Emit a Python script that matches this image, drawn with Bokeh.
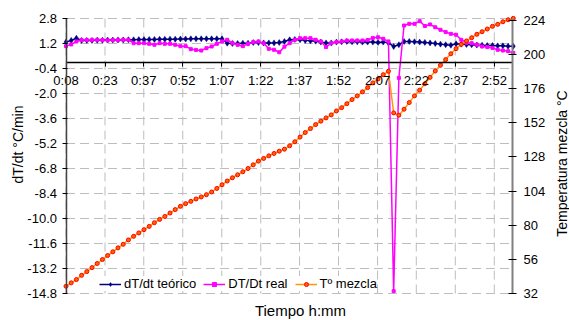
from bokeh.plotting import figure
from bokeh.models import (Range1d, LinearAxis, FixedTicker, NumeralTickFormatter,
                          Legend, LegendItem, Label)
from bokeh.embed import file_html
from bokeh.resources import INLINE

# ---------------- data ----------------
time_min = [8, 10, 12, 14, 16, 18, 20, 22, 24, 26, 28, 30, 32, 34, 36, 38, 40, 42, 44, 46,
            48, 50, 52, 54, 56, 58, 60, 62, 64, 66, 68, 70, 72, 74, 76, 78, 80, 82, 84, 86,
            88, 90, 92, 94, 96, 98, 100, 102, 104, 106, 108, 110, 112, 114, 116, 118, 120,
            122, 124, 126, 128, 130, 132, 134, 136, 138, 140, 142, 144, 146, 148, 150, 152,
            154, 156, 158, 160, 162, 164, 166, 168, 170, 172, 174, 176, 178, 180]

rate_theory = [1.29, 1.40, 1.54, 1.40, 1.40, 1.40, 1.41, 1.41, 1.42, 1.42,
               1.43, 1.43, 1.44, 1.44, 1.45, 1.45, 1.46, 1.46, 1.47, 1.47,
               1.48, 1.48, 1.49, 1.49, 1.50, 1.50, 1.50, 1.50, 1.50, 1.50, 1.50,
               1.22, 1.20, 1.20, 1.22, 1.22, 1.26, 1.26, 1.24, 1.24, 1.24, 1.26,
               1.33, 1.44, 1.46, 1.44, 1.40, 1.37, 1.35, 1.29, 1.24, 1.24,
               1.29, 1.31, 1.33, 1.31, 1.31, 1.29, 1.29, 1.29, 1.27, 1.29, 1.24,
               1.01, 1.12, 1.33, 1.33, 1.31, 1.29, 1.27, 1.24, 1.20, 1.16, 1.12, 1.09,
               1.18, 1.16, 1.14, 1.12, 1.10, 1.09, 1.07, 1.07, 1.05, 1.05, 1.03, 1.03]

rate_real = [1.03, 1.14, 1.33, 1.42, 1.42, 1.42, 1.44, 1.42, 1.40, 1.42,
             1.42, 1.44, 1.44, 1.22, 1.22, 1.22, 1.18, 1.12, 1.22, 1.18,
             1.18, 1.12, 1.03, 1.03, 0.84, 0.79, 0.75, 0.90, 1.01, 1.18,
             1.33, 1.44, 1.22, 1.12, 1.03, 1.18, 1.29, 1.33, 1.22, 0.86,
             0.80, 0.64, 1.00, 1.22, 1.44, 1.54, 1.54, 1.54, 1.44, 1.33,
             0.97, 1.22, 1.29, 1.33, 1.39, 1.39, 1.39, 1.39, 1.42, 1.56,
             1.60, 1.50, 1.33, -14.65, -1.00, 2.35, 2.46, 2.46, 2.63, 2.32,
             2.42, 2.24, 2.08, 1.93, 1.82, 1.76, 1.44, 1.25, 1.22, 1.12,
             1.01, 0.97, 0.92, 0.80, 0.75, 0.71, 0.60]

temp_mix = [37.1, 39.5, 41.8, 44.8, 47.4, 50.2, 53.1, 55.9, 58.7, 61.3,
            64.1, 66.6, 69.7, 72.2, 74.6, 76.9, 79.2, 81.8, 84.1, 86.2,
            88.6, 91.0, 93.3, 95.2, 96.8, 98.5, 99.9, 101.5, 103.4, 105.9,
            108.5, 111.1, 113.4, 115.5, 117.6, 119.9, 122.5, 125.1, 127.0, 128.8,
            130.5, 132.1, 133.5, 135.9, 138.7, 142.0, 145.2, 148.0, 150.8, 153.2,
            155.5, 157.6, 160.4, 162.7, 165.5, 168.4, 171.0, 173.8, 176.8, 180.1,
            182.9, 185.9, 188.3, 159.0, 157.4, 161.6, 166.3, 171.0, 175.0, 179.5,
            184.0, 188.5, 192.5, 196.5, 200.6, 204.2, 207.2, 209.6, 211.9, 214.3,
            216.1, 218.0, 219.9, 221.3, 223.1, 224.5, 225.5]

x_tick_pos = [8.0, 23.0, 37.9, 52.9, 67.9, 82.9, 97.8, 112.8, 127.8, 142.7, 157.7, 172.7]
x_tick_labels = ["0:08", "0:23", "0:37", "0:52", "1:07", "1:22", "1:37", "1:52",
                 "2:07", "2:22", "2:37", "2:52"]
left_ticks = [-14.8, -13.2, -11.6, -10.0, -8.4, -6.8, -5.2, -3.6, -2.0, -0.4, 1.2, 2.8]
right_ticks = [32, 56, 80, 104, 128, 152, 176, 200, 224]

series_names = ["dT/dt teórico", "DT/Dt real", "Tº mezcla"]
x_title = "Tiempo h:mm"
left_title = "dT/dt °C/min"
right_title = "Temperatura mezcla °C"

# ---------------- layout constants ----------------
W, H = 569, 320
X_MIN, X_MAX = 8, 179.7            # plot-area extent in minutes
Y_MIN, Y_MAX = -14.8, 2.8          # left axis extent
T_MIN, T_MAX = 32, 225.4           # right axis extent
AREA_L, AREA_R, AREA_T, AREA_B = 65.5, 512, 18, 293   # plot area in canvas px

# the Bokeh frame covers the whole canvas; map the plot area onto it
kx = (X_MAX - X_MIN) / (AREA_R - AREA_L)
ky = (Y_MAX - Y_MIN) / (AREA_B - AREA_T)
kt = (T_MAX - T_MIN) / (AREA_B - AREA_T)
x_rng = Range1d(X_MIN - AREA_L * kx, X_MAX + (W - AREA_R) * kx)
y_rng = Range1d(Y_MIN - (H - AREA_B) * ky, Y_MAX + AREA_T * ky)
t_rng = Range1d(T_MIN - (H - AREA_B) * kt, T_MAX + AREA_T * kt)

FONT = "Liberation Sans"

p = figure(width=W, height=H, output_backend="svg", toolbar_location=None,
           x_range=x_rng, y_range=y_rng, min_border=0)
p.title.visible = False
p.outline_line_color = None
p.background_fill_color = "white"
p.border_fill_color = "white"
p.xgrid.visible = False
p.ygrid.visible = False
p.extra_y_ranges = {"temp": t_rng}

# dashed grid lines inside the plot area
GRID = dict(line_color="#BDBDBD", line_dash="9 5", line_width=1)
p.segment(x0=[X_MIN] * len(left_ticks), x1=[X_MAX] * len(left_ticks),
          y0=left_ticks, y1=left_ticks, **GRID)
p.segment(x0=x_tick_pos, x1=x_tick_pos, y0=[Y_MIN] * len(x_tick_pos),
          y1=[Y_MAX] * len(x_tick_pos), **GRID)

# x axis drawn at y = 0
xa = p.xaxis[0]
xa.fixed_location = 0
xa.bounds = (X_MIN, X_MAX)
xa.ticker = FixedTicker(ticks=x_tick_pos)
xa.major_label_overrides = {t: l for t, l in zip(x_tick_pos, x_tick_labels)}
xa.axis_line_color = "black"
xa.axis_line_width = 1.5
xa.major_tick_line_color = "black"
xa.major_tick_out = 4
xa.major_tick_in = 0
xa.minor_tick_line_color = None
xa.major_label_standoff = 7

# left axis at the start of the time range
ya = p.yaxis[0]
ya.fixed_location = X_MIN
ya.bounds = (Y_MIN, Y_MAX)
ya.ticker = FixedTicker(ticks=left_ticks)
ya.formatter = NumeralTickFormatter(format="0.0")
ya.axis_line_color = "#444444"
ya.axis_line_width = 1.5
ya.major_tick_line_color = "black"
ya.major_tick_out = 4
ya.major_tick_in = 1
ya.minor_tick_line_color = None
ya.major_label_standoff = 5

# right axis (temperature)
ra = LinearAxis(y_range_name="temp", fixed_location=X_MAX, bounds=(T_MIN, T_MAX),
                ticker=FixedTicker(ticks=right_ticks))
ra.axis_line_color = "#808080"
ra.axis_line_width = 2
ra.major_tick_line_color = "black"
ra.major_tick_out = 4
ra.major_tick_in = 4
ra.minor_tick_line_color = None
ra.major_label_standoff = 7
p.add_layout(ra, "right")

for ax in (xa, ya, ra):
    ax.major_label_text_font = FONT
    ax.major_label_text_font_size = "13px"
    ax.major_label_text_color = "black"

# axis titles
TXT = dict(x_units="screen", y_units="screen", text_align="center",
           text_baseline="middle", text_font=FONT, text_color="black")
p.add_layout(Label(x=17, y=H - 144, angle=90, angle_units="deg", text=left_title,
                   text_font_size="14px", **TXT))
p.add_layout(Label(x=561, y=H - 163, angle=90, angle_units="deg", text=right_title,
                   text_font_size="14px", **TXT))
p.add_layout(Label(x=300, y=H - 310, text=x_title, text_font_size="15px", **TXT))

# ---------------- series ----------------
l1 = p.line(time_min, rate_theory, line_color="#000080", line_width=1.5)
s1 = p.scatter(time_min, rate_theory, marker="diamond", size=6,
               fill_color="#000080", line_color="#000080", line_width=0.5)
l2 = p.line(time_min, rate_real, line_color="#FF00FF", line_width=1.5)
s2 = p.scatter(time_min, rate_real, marker="square", size=3,
               fill_color="#FF00FF", line_color="#FF00FF", line_width=1)
l3 = p.line(time_min, temp_mix, line_color="#FF9900", line_width=1.5, y_range_name="temp")
s3 = p.scatter(time_min, temp_mix, marker="circle", size=4, fill_color="#FF6600",
               line_color="#FF0000", line_width=1, y_range_name="temp")

legend = Legend(items=[LegendItem(label=series_names[0], renderers=[l1, s1]),
                       LegendItem(label=series_names[1], renderers=[l2, s2]),
                       LegendItem(label=series_names[2], renderers=[l3, s3])],
                location=(99, H - 291), orientation="horizontal",
                glyph_width=22, glyph_height=10, label_height=14,
                label_standoff=3, spacing=7, padding=3, margin=0,
                label_text_font=FONT, label_text_font_size="13px",
                label_text_color="black",
                border_line_color=None, background_fill_color="white",
                background_fill_alpha=1.0)
p.add_layout(legend)

open("out.html", "w").write(file_html(p, INLINE))
